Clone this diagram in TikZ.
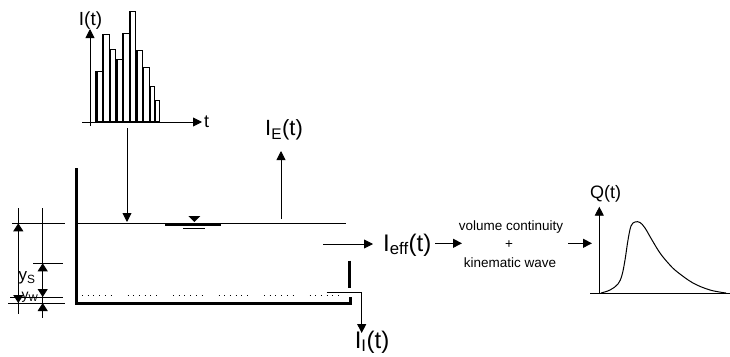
\documentclass[tikz,border=0pt]{standalone}
\usepackage{fontspec}
\setmainfont{Liberation Sans}
\usetikzlibrary{arrows.meta}
\begin{document}
\begin{tikzpicture}[x=1pt,y=-1pt,
  thinline/.style={line width=0.9pt},
  wall/.style={line width=3pt,line join=miter},
  arr/.style={line width=0.9pt,-{Triangle[length=9pt,width=9pt]}},
  dimarr/.style={line width=0.9pt,-{Triangle[length=8pt,width=10pt]}},
  bar/.style={draw,line width=0.9pt},
  lbl/.style={inner sep=0pt}]
\useasboundingbox (0,0) rectangle (730,356);

% ---------- histogram ----------
\foreach \l/\r/\t in {95.7/102.3/71.7, 102.3/109/34, 109/115.7/49, 115.7/122.3/59.3,
  122.3/129/33.7, 129/135.7/11.7, 135.7/142.3/50.3, 142.3/149/67, 149/154.3/86.3, 154.3/159.7/100}{
  \draw[bar] (\l,121) rectangle (\r,\t);
  \draw[line width=2.2pt] (\l+0.7,121) -- (\l+0.7,\t);
}
\coordinate (hy0) at (90,126);
\coordinate (hy1) at (90,29);
\coordinate (hx0) at (82,122);
\coordinate (hx1) at (202,122);
\draw[arr] (hy0) -- (hy1);
\draw[arr] (hx0) -- (hx1);
\node[lbl,font=\fontsize{19}{19}\selectfont] (It) at (90.5,21) {I(t)};
\node[lbl,anchor=west,font=\fontsize{18}{18}\selectfont] (tlab) at (204,122) {t};

% ---------- rainfall arrow ----------
\coordinate (rain0) at (127,128);
\coordinate (rain1) at (127,222);
\draw[arr] (rain0) -- (rain1);

% ---------- evaporation ----------
\coordinate (ev0) at (281,219);
\coordinate (ev1) at (281,151);
\draw[arr] (ev0) -- (ev1);
\node[lbl,font=\fontsize{22}{22}\selectfont] (IE) at (284,130) {I\textsubscript{E}(t)};

% ---------- tank ----------
\draw[wall] (76.7,168) -- (76.7,303.5) -- (350,303.5) -- (350,296.5);
\draw[wall] (349,260.7) -- (349,288.3);
\draw[thinline] (78,223.3) -- (346,223.3);
\draw[line width=0.9pt,dash pattern=on 1pt off 4.7pt on 1pt off 4.7pt on 1pt off 4.7pt on 1pt off 4.7pt on 1pt off 4.7pt on 1pt off 16pt]
  (82,295) -- (346,295);
% water level symbol
\fill (188.3,216) -- (200.3,216) -- (194.3,222) -- cycle;
\draw[line width=2pt] (165,224.7) -- (221,224.7);
\draw[thinline] (183,228.3) -- (205,228.3);

% outflow / infiltration
\coordinate (inf0) at (326.7,292.3);
\coordinate (infc) at (361.7,292.3);
\coordinate (inf1) at (361.7,333);
\draw[arr] (inf0) -- (infc) -- (inf1);
\node[lbl,font=\fontsize{24}{24}\selectfont] (II) at (372,342) {I\textsubscript{I}(t)};

% effective
\coordinate (eff0) at (323,244);
\coordinate (eff1) at (373,244);
\draw[arr] (eff0) -- (eff1);
\node[lbl,anchor=west,font=\fontsize{24}{24}\selectfont] (Ieff) at (383,245) {I\textsubscript{eff}(t)};

% ---------- dimensions ----------
\draw[thinline] (18.3,208) -- (18.3,314);
\draw[thinline] (42.7,208) -- (42.7,318);
\draw[thinline] (12,223.3) -- (65,223.3);
\draw[thinline] (33,263.3) -- (63,263.3);
\draw[thinline] (10,297) -- (63,297);
\draw[thinline] (8,303) -- (65,303);
\draw[dimarr] (18.3,236) -- (18.3,223.3);
\draw[dimarr] (18.3,292) -- (18.3,303);
\draw[dimarr] (42.7,272) -- (42.7,263.3);
\draw[dimarr] (42.7,288) -- (42.7,297);
\draw[dimarr] (42.7,313) -- (42.7,303);
\node[lbl,font=\fontsize{17}{17}\selectfont] (ys) at (27,278) {y\textsubscript{S}};
\node[lbl,font=\fontsize{14}{14}\selectfont] (yw) at (30,297) {y\textsubscript{W}};

% ---------- transform text ----------
\coordinate (m0) at (435,243.3);
\coordinate (m1) at (462,243.3);
\draw[arr] (m0) -- (m1);
\node[lbl,font=\fontsize{13.5}{13.5}\selectfont] (vc) at (511,226.7) {volume continuity};
\node[lbl,font=\fontsize{13.5}{13.5}\selectfont] (plus) at (509,245) {+};
\node[lbl,font=\fontsize{13.5}{13.5}\selectfont] (kw) at (510,262.7) {kinematic wave};
\coordinate (n0) at (568,243.3);
\coordinate (n1) at (592,243.3);
\draw[arr] (n0) -- (n1);

% ---------- hydrograph ----------
\coordinate (qy0) at (599.3,293.3);
\coordinate (qy1) at (599.3,206.7);
\draw[arr] (qy0) -- (qy1);
\draw[thinline] (590,293.3) -- (730,293.3);
\node[lbl,font=\fontsize{18}{18}\selectfont] (Qt) at (605.5,194) {Q(t)};
\draw[line width=1pt] plot[smooth,tension=0.6] coordinates {(601,293) (610,290) (618,284) (622,275) (625,260) (628,240) (631,226) (635,222) (640,222.5) (645,228) (652,240) (660,253) (669,264) (677,271.7) (693,283) (710,290) (726,293)};
\end{tikzpicture}
\end{document}
